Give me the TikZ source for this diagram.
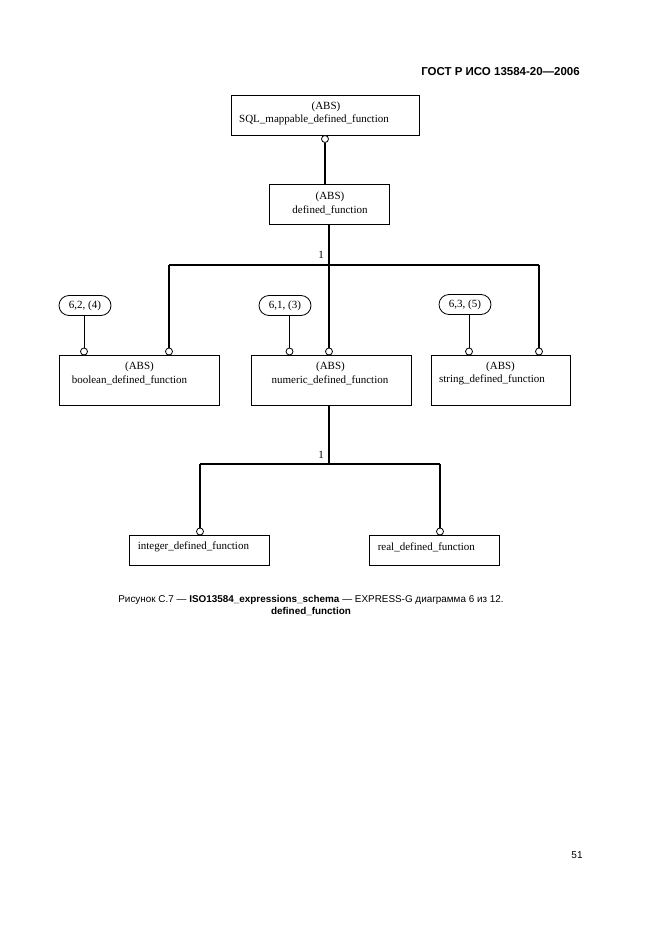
\documentclass[tikz,border=0pt]{standalone}
\usepackage{fontspec}
\setmainfont{Liberation Serif}
\setsansfont{Liberation Sans}
\usetikzlibrary{positioning}
\usetikzlibrary{shapes.misc}
\tikzset{
    entity/.style = {rectangle,draw,line width=0.8pt,inner sep=0pt},
    etext/.style = {font=\rmfamily\fontsize{11}{12.5}\selectfont,inner sep=0pt},
    pageref/.style = {rounded rectangle,draw,line width=0.8pt,minimum width=52pt,minimum height=20pt,inner sep=0pt,font=\rmfamily\fontsize{11}{12}\selectfont},
    oring/.style = {circle,draw,fill=white,line width=0.8pt,inner sep=0pt,minimum size=7pt},
    subline/.style = {line width=2.2pt},
    refline/.style = {line width=0.8pt},
    card/.style = {inner sep=0pt,font=\rmfamily\fontsize{11}{12}\selectfont}}
\begin{document}
\begin{tikzpicture}[x=1pt,y=-1pt]
        \useasboundingbox (0,0) rectangle (661,936);
        \node[anchor=east,inner sep=0pt,font=\sffamily\bfseries\fontsize{11.5}{12}\selectfont] (head) at (580,72) {ГОСТ Р ИСО 13584-20—2006};
        % upper part
        \node[entity,minimum width=188pt,minimum height=40pt] (sqlmap) at (325,115) {};
        \node[etext] (sqlmap-a) at (326,107) {(ABS)};
        \node[etext] (sqlmap-t) at (314,119.5) {SQL\_mappable\_defined\_function};
        \node[oring] (c-sql) at (325,139) {};
        \node[entity,minimum width=120pt,minimum height=40pt] (deffn) at (329,204) {};
        \node[etext] (deffn-a) at (330,197) {(ABS)};
        \node[etext] (deffn-t) at (330,210) {defined\_function};
        \draw[subline] (c-sql.south -| c-sql) -- (c-sql |- deffn.north);
        \node[entity,minimum width=160pt,minimum height=50pt] (bool) at (139,380) {};
        \node[etext] (bool-a) at (139.5,367) {(ABS)};
        \node[etext] (bool-t) at (129.5,380) {boolean\_defined\_function};
        \node[entity,minimum width=160pt,minimum height=50pt] (num) at (331,380) {};
        \node[etext] (num-a) at (330.5,367) {(ABS)};
        \node[etext] (num-t) at (330,380) {numeric\_defined\_function};
        \node[entity,minimum width=139pt,minimum height=50pt] (str) at (500.5,380) {};
        \node[etext] (str-a) at (500.5,367) {(ABS)};
        \node[etext] (str-t) at (492,380) {string\_defined\_function};
        \node[oring] (c-bool) at (169,351.5) {};
        \node[oring] (c-num) at (329,351.5) {};
        \node[oring] (c-str) at (539,351.5) {};
        \coordinate (bar1-l) at (169,265);
        \coordinate (bar1-r) at (539,265);
        \node[card] (one1) at (321,255) {1};
        \draw[subline] (deffn.south) -- (c-num.north);
        \draw[subline] (bar1-l) -- (bar1-r);
        \draw[subline] (bar1-l) -- (c-bool.north);
        \draw[subline] (bar1-r) -- (c-str.north);
        % page references
        \node[pageref] (pbool) at (85,305.5) {6,2, (4)};
        \node[pageref] (pnum) at (285,305.5) {6,1, (3)};
        \node[pageref] (pstr) at (465,304.5) {6,3, (5)};
        \node[oring] (c-pbool) at (84,351.5) {};
        \node[oring] (c-pnum) at (289.5,351.5) {};
        \node[oring] (c-pstr) at (469,351.5) {};
        \draw[refline] (c-pbool |- pbool.south) -- (c-pbool.north);
        \draw[refline] (c-pnum |- pnum.south) -- (c-pnum.north);
        \draw[refline] (c-pstr |- pstr.south) -- (c-pstr.north);
        % lower part
        \node[entity,minimum width=140pt,minimum height=30pt] (int) at (199,550) {};
        \node[etext,anchor=west] (int-t) at ([xshift=9pt,yshift=3pt]int.west) {integer\_defined\_function};
        \node[entity,minimum width=130pt,minimum height=30pt] (real) at (434,550) {};
        \node[etext,anchor=west] (real-t) at ([xshift=9pt,yshift=3pt]real.west) {real\_defined\_function};
        \node[oring] (c-int) at (200,531.5) {};
        \node[oring] (c-real) at (440,531.5) {};
        \coordinate (bar2-l) at (200,464);
        \coordinate (bar2-r) at (440,464);
        \node[card] (one2) at (321,455) {1};
        \draw[subline] (c-num |- num.south) -- (c-num |- bar2-l);
        \draw[subline] (bar2-l) -- (bar2-r);
        \draw[subline] (bar2-l) -- (c-int.north);
        \draw[subline] (bar2-r) -- (c-real.north);
        % caption
        \node[align=center,inner sep=0pt,font=\sffamily\fontsize{9.9}{12}\selectfont] (cap) at (311,606) {Рисунок С.7 — \textbf{ISO13584\_expressions\_schema} — EXPRESS-G диаграмма 6 из 12.\\\textbf{defined\_function}};
        \node[inner sep=0pt,font=\sffamily\fontsize{10}{12}\selectfont] (pnumber) at (577,855) {51};
\end{tikzpicture}
\end{document}
